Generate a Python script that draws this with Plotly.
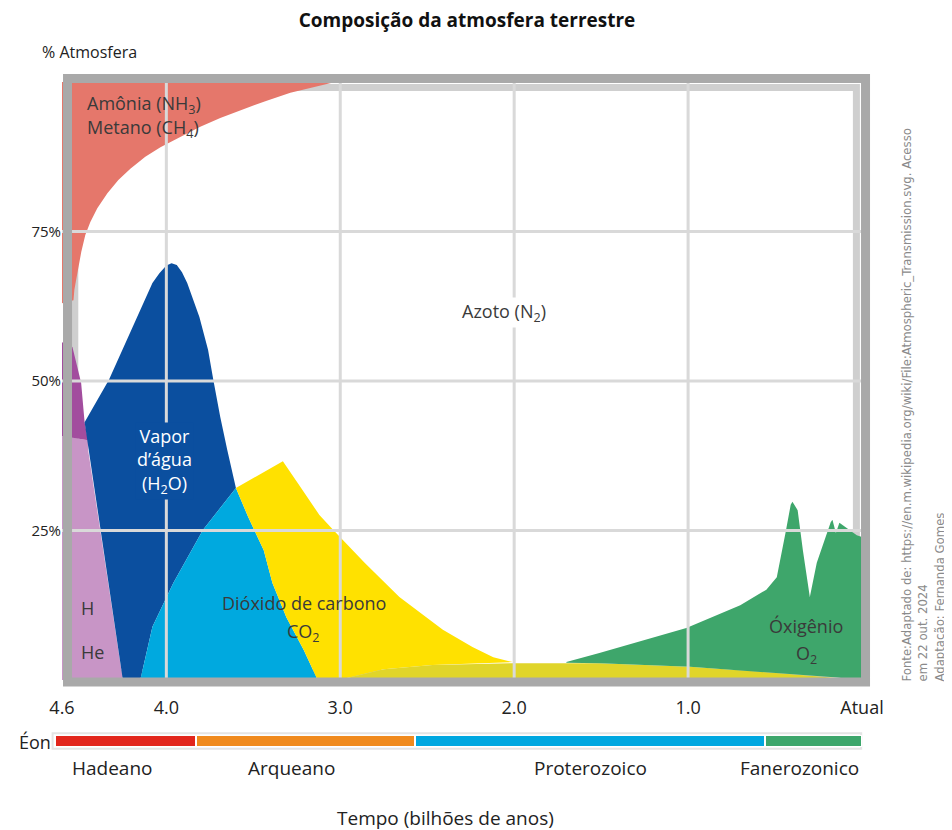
import plotly.graph_objects as go

# tempo em bilhões de anos (4.6 = formação da Terra, 0 = atual) e % da atmosfera
amonia_t = [4.6, 4.6, 4.534, 4.529, 4.517, 4.506, 4.489, 4.466, 4.437, 4.397, 4.339, 4.276, 4.207,
            4.121, 4.034, 3.920, 3.805, 3.690, 3.575, 3.431, 3.287, 3.144, 3.029]
amonia_pct = [100, 63.0, 63.5, 65.2, 67.2, 69.2, 71.6, 74.4, 76.6, 78.9, 81.4, 83.6, 85.5,
              87.5, 89.1, 90.8, 92.5, 94.0, 95.3, 96.8, 98.2, 99.2, 100]

hidrogenio_t = [4.6, 4.6, 4.45, 4.45, 4.25]
hidrogenio_pct = [0, 40.8, 40.1, 38.5, 0]

mistura_t = [4.6, 4.54, 4.49, 4.47, 4.45, 4.6]
mistura_pct = [56.5, 55.7, 49.7, 43.1, 40.1, 40.8]

vapor_t = [4.25, 4.45, 4.47, 4.33, 4.17, 4.08, 4.04, 4.00, 3.97, 3.94, 3.91, 3.88, 3.81, 3.76, 3.73,
           3.69, 3.65, 3.60, 3.79, 3.96, 4.08, 4.15]
vapor_pct = [0, 38.5, 43.1, 50.2, 60.7, 66.4, 68.0, 69.3, 69.7, 69.4, 68.2, 66.4, 60.7, 55.2, 50.2,
             44.0, 38.5, 32.1, 25.1, 16.2, 8.9, 0]

co2_azul_t = [4.15, 4.08, 3.96, 3.79, 3.60, 3.53, 3.44, 3.39, 3.31, 3.21, 3.13]
co2_azul_pct = [0, 8.9, 16.2, 25.1, 32.1, 27.3, 21.7, 16.2, 10.5, 5.0, 0]

co2_amarelo_t = [3.60, 3.33, 3.23, 3.12, 3.04, 2.86, 2.66, 2.41, 2.24, 2.12, 2.01, 2.47, 2.75, 2.98,
                 3.13, 3.21, 3.31, 3.39, 3.44, 3.53]
co2_amarelo_pct = [32.1, 36.6, 32.3, 27.6, 25.1, 19.6, 13.9, 8.4, 5.5, 3.8, 3.0, 2.5, 1.8, 0.2,
                   0, 5.0, 10.5, 16.2, 21.7, 27.3]

faixa_t = [2.98, 2.75, 2.47, 2.01, 1.51, 0.99, 0.55, 0.18, 0.0, 0.0]
faixa_pct = [0.2, 1.8, 2.5, 2.8, 2.8, 2.2, 1.3, 0.5, 0, 0]

oxigenio_t = [1.70, 1.51, 1.01, 0.70, 0.55, 0.49, 0.44, 0.41, 0.40, 0.37, 0.34, 0.30, 0.26, 0.18,
              0.17, 0.15, 0.13, 0.09, 0.03, 0.0, 0.0, 0.18, 0.55, 0.99, 1.51, 1.70]
oxigenio_pct = [3.0, 4.5, 8.7, 12.5, 15.1, 17.2, 24.6, 29.3, 29.8, 28.4, 21.7, 13.9, 19.6, 26.4,
                26.8, 24.6, 26.3, 25.4, 24.2, 23.9, 0, 0.5, 1.3, 2.2, 2.8, 2.9]

x_ticks = [4.6, 4.0, 3.0, 2.0, 1.0, 0.0]
x_labels = ["4.6", "4.0", "3.0", "2.0", "1.0", "Atual"]
y_ticks = [25, 50, 75]
y_labels = ["25%", "50%", "75%"]
grade_x = [4.0, 3.0, 2.0, 1.0]
grade_y = [25, 50, 75]

eons = ["Hadeano", "Arqueano", "Proterozoico", "Fanerozonico"]
eon_inicio = [4.64, 3.83, 2.57, 0.56]
eon_fim = [3.83, 2.57, 0.56, 0.0]
eon_cores = ["#e2261c", "#f08a1d", "#00a7e0", "#3da66b"]
eon_rotulo_t = [4.31, 3.28, 1.56, 0.36]

# a página desloca a figura 8 px (margem do body)
OFF = 8
W, H = 952 - OFF, 830 - OFF
L, R, T, B = 40 - OFF, 90, 82 - OFF, 70


def px(x):
    return (x - OFF - L) / (W - L - R)


def py(y):
    return (H - B - (y - OFF)) / (H - T - B)


fig = go.Figure()

areas = [
    (amonia_t, amonia_pct, "#e5776b"),
    (hidrogenio_t, hidrogenio_pct, "#c895c6"),
    (mistura_t, mistura_pct, "#a24d9e"),
    (vapor_t, vapor_pct, "#0b4f9f"),
    (co2_azul_t, co2_azul_pct, "#00a9df"),
    (co2_amarelo_t, co2_amarelo_pct, "#ffe100"),
    (faixa_t, faixa_pct, "#e0d52a"),
    (oxigenio_t, oxigenio_pct, "#3ea66b"),
]
for t, p, cor in areas:
    fig.add_trace(go.Scatter(x=t, y=p, fill="toself", fillcolor=cor, mode="lines",
                             line=dict(width=0, color=cor), hoverinfo="skip", showlegend=False))

fig.add_trace(go.Bar(
    y=[0] * len(eons), x=[a - b for a, b in zip(eon_inicio, eon_fim)], base=eon_fim,
    orientation="h", xaxis="x2", yaxis="y2", width=1,
    marker=dict(color=eon_cores, line=dict(color="white", width=2)),
    hoverinfo="skip", showlegend=False))

shapes = [
    # faixa cinza clara interna (atrás das áreas)
    dict(type="rect", xref="x domain", yref="y domain", x0=0.016, x1=0.993, y0=0.011, y1=0.991,
         line=dict(color="#cfcfcf", width=7), layer="below"),
    # contorno claro da barra dos éons
    dict(type="rect", xref="x2 domain", yref="y2 domain", x0=-0.003, x1=0.999, y0=-0.15, y1=1.15,
         line=dict(color="#e4e4e4", width=2), layer="below"),
]
for g in grade_x:
    shapes.append(dict(type="line", xref="x", yref="y domain", x0=g, x1=g, y0=0, y1=1,
                       line=dict(color="#d9d9d9", width=3), layer="above"))
for g in grade_y:
    shapes.append(dict(type="line", xref="x domain", yref="y", x0=0, x1=1, y0=g, y1=g,
                       line=dict(color="#d9d9d9", width=3), layer="above"))
shapes.append(dict(type="rect", xref="x domain", yref="y domain", x0=0.0069, x1=1.0044,
                   y0=-0.0033, y1=1.0059, line=dict(color="#a9a9a9", width=9), layer="above"))

fonte = "Open Sans, Liberation Sans, sans-serif"
cinza = "#3a3a3a"

ann = [
    dict(x=4.47, y=96.3, text="Amônia (NH<sub>3</sub>)", xanchor="left"),
    dict(x=4.47, y=92.2, text="Metano (CH<sub>4</sub>)", xanchor="left"),
    dict(x=2.06, y=61.5, text="Azoto (N<sub>2</sub>)", bgcolor="white"),
    dict(x=4.01, y=36.6, text="Vapor<br>d’água<br>(H<sub>2</sub>O)",
         font=dict(color="white", size=18, family=fonte), bgcolor="#0b4f9f"),
    dict(x=4.50, y=12.0, text="H", xanchor="left"),
    dict(x=4.50, y=4.7, text="He", xanchor="left"),
    dict(x=3.21, y=12.9, text="Dióxido de carbono"),
    dict(x=3.21, y=7.9, text="CO<sub>2</sub>"),
    dict(x=0.32, y=9.0, text="Óxigênio"),
    dict(x=0.32, y=4.2, text="O<sub>2</sub>"),
]
for a in ann:
    a.setdefault("font", dict(color=cinza, size=18, family=fonte))
    a.update(xref="x", yref="y", showarrow=False, yanchor="middle")

for nome, t in zip(eons, eon_rotulo_t):
    ann.append(dict(x=t, y=py(768), xref="x2", yref="paper", text=nome, showarrow=False,
                    xanchor="center", yanchor="middle",
                    font=dict(color="#222", size=19, family=fonte)))

ann += [
    dict(x=px(40), y=py(52), text="% Atmosfera", xanchor="left", font=dict(color="#222", size=16, family=fonte)),
    dict(x=px(35), y=py(742), text="Éon", xanchor="center", font=dict(color="#222", size=18, family=fonte)),
    dict(x=px(445), y=py(818), text="Tempo (bilhões de anos)", xanchor="center",
         font=dict(color="#222", size=19, family=fonte)),
]
for a in ann[-3:]:
    a.update(xref="paper", yref="paper", showarrow=False, yanchor="middle")

ann.append(dict(
    x=px(923), y=py(684), xref="paper", yref="paper", xanchor="center", yanchor="bottom",
    textangle=-90, align="left", showarrow=False,
    text="Fonte:Adaptado de: https://en.m.wikipedia.org/wiki/File:Atmospheric_Transmission.svg. Acesso<br>"
         "em 22 out. 2024<br>Adaptação: Fernanda Gomes",
    font=dict(color="#8a8a8a", size=13, family="Liberation Sans Narrow, DejaVu Sans Condensed, sans-serif")))

fig.update_layout(
    width=W, height=H,
    margin=dict(l=L, r=R, t=T, b=B),
    paper_bgcolor="white", plot_bgcolor="white",
    title=dict(text="<b>Composição da atmosfera terrestre</b>", x=(467 - OFF) / W, y=1 - (20 - OFF) / H,
               xanchor="center", yanchor="middle", xref="container", yref="container",
               font=dict(size=19, color="#111", family=fonte)),
    xaxis=dict(domain=[px(62), 1], range=[4.6, 0], tickvals=x_ticks, ticktext=x_labels,
               showgrid=False, zeroline=False, showline=False, anchor="y",
               ticks="outside", ticklen=11, tickcolor="rgba(0,0,0,0)",
               tickfont=dict(size=18, color="#222", family=fonte)),
    yaxis=dict(domain=[py(680), 1], range=[0, 100], tickvals=y_ticks, ticktext=y_labels,
               showgrid=False, zeroline=False, showline=False, ticks="", anchor="x",
               ticklabelstandoff=0, tickfont=dict(size=15, color="#222", family=fonte)),
    xaxis2=dict(domain=[px(55), 1], range=[4.64, 0], anchor="y2", visible=False),
    yaxis2=dict(domain=[py(747), py(735)], range=[-0.5, 0.5], anchor="x2", visible=False),
    shapes=shapes,
    annotations=ann,
    bargap=0,
)

fig.write_html("out.html")
